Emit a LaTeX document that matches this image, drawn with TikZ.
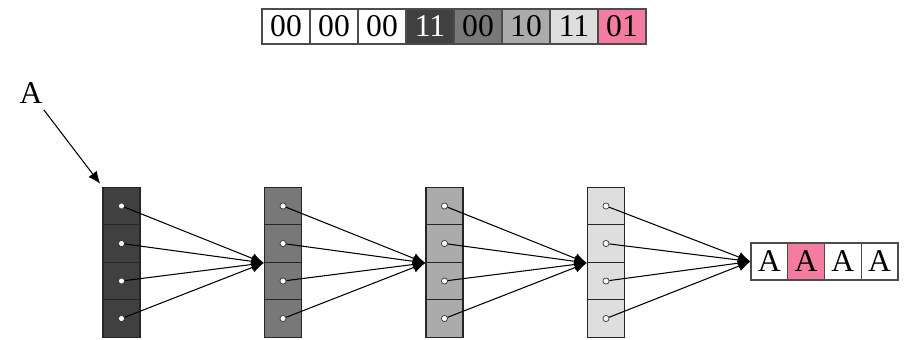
\documentclass[tikz,border=0pt]{standalone}
\usepackage{fontspec}
\setmainfont{Liberation Serif}
\usetikzlibrary{positioning,arrows.meta}
\definecolor{pinkcell}{HTML}{F47CA0}

\begin{document}
\begin{tikzpicture}[x = 0.02cm, y = -0.02cm, > = {Latex[length = 7pt, width = 6pt]}, semithick]
\tikzstyle{bit}=[
  draw = black!70,
  minimum width = 0.96cm,
  minimum height = 0.7cm,
  inner sep = 0pt,
  font = \fontsize{18}{20}\selectfont
]
\tikzstyle{slot}=[
  draw = black!85,
  line width = 0.8pt,
  minimum width = 0.74cm,
  minimum height = 0.75cm,
  inner sep = 0pt
]
\tikzstyle{letter}=[
  draw = black!70,
  minimum width = 0.735cm,
  minimum height = 0.74cm,
  inner sep = 0pt,
  font = \fontsize{18}{20}\selectfont
]
\tikzstyle{dot}=[circle, draw = black!80, fill = white, thin, inner sep = 0pt, minimum size = 3.5pt]

\useasboundingbox (0,0) rectangle (908,339);

% code word on top
\foreach \v/\f/\t [count = \i] in {00/white/black, 00/white/black, 00/white/black, 11/black!75/white,
    00/black!53/black, 10/black!33/black, 11/black!13/black, 01/pinkcell/black}
  \node[bit, fill = \f, text = \t] (b\i) at (238 + 48*\i, 26.5) {\v};

% the four columns
\foreach \f [count = \c] in {black!75, black!53, black!33, black!13}
  \foreach \r in {1,...,4}
  {
    \node[slot, fill = \f] (s\c-\r) at (-40 + 161.5*\c, 168.5 + 37.5*\r) {};
    \node[dot] (d\c-\r) at (s\c-\r.center) {};
  }

% output
\foreach \f [count = \i] in {white, pinkcell, white, white}
  \node[letter, fill = \f] (o\i) at (732.6 + 36.75*\i, 261.5) {A};

\node[font = \fontsize{18}{20}\selectfont] (A) at (31, 93) {A};

\draw[->, shorten > = 2pt] (A) -- (s1-1.north west);
\foreach \c [evaluate = \c as \n using int(\c+1)] in {1,2,3}
  \foreach \r in {1,...,4}
    \draw[->] (d\c-\r) -- (s\n-2.south west);
\foreach \r in {1,...,4}
  \draw[->] (d4-\r) -- (o1.west);
\end{tikzpicture}
\end{document}
